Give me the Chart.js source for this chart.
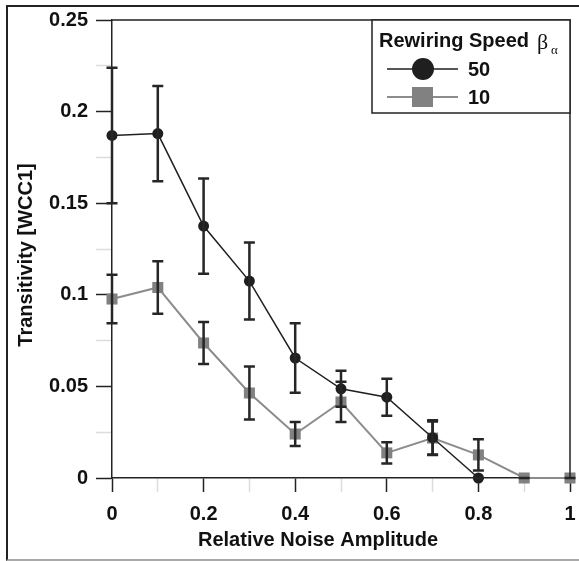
<!DOCTYPE html>
<html>
<head>
<meta charset="utf-8">
<script src="https://cdn.jsdelivr.net/npm/chart.js@4.4.1/dist/chart.umd.min.js"></script>
<style>
    html, body { margin: 0; padding: 0; background: #fff; }
    body { width: 579px; height: 561px; position: relative; overflow: hidden; }
    #frame {
        position: absolute; left: 6px; top: 5px; width: 600px; height: 552px;
        border-top: 2px solid #222; border-left: 2px solid #222; border-bottom: 2px solid #aaa;
    }
    #chart { position: absolute; left: 0; top: 0; }
</style>
</head>
<body>
<div id="frame"></div>
<canvas id="chart" width="579" height="561"></canvas>
<script>
// Relative noise amplitude (x) and transitivity values per rewiring speed
const xValues = [0, 0.1, 0.2, 0.3, 0.4, 0.5, 0.6, 0.7, 0.8, 0.9, 1];
const speed50 = [0.187, 0.188, 0.1375, 0.1075, 0.0655, 0.0487, 0.0441, 0.022, 0];
const speed50Err = [0.037, 0.026, 0.026, 0.021, 0.019, 0.0098, 0.0101, 0.0095, 0];
const speed10 = [0.0977, 0.104, 0.0737, 0.0464, 0.024, 0.0415, 0.0137, 0.0218, 0.0126, 0, 0];
const speed10Err = [0.0132, 0.0143, 0.0115, 0.0145, 0.0066, 0.011, 0.0058, 0.009, 0.0085, 0, 0];

const seriesLabels = ['50', '10'];
const xMajorTicks = [0, 0.2, 0.4, 0.6, 0.8, 1];
const yMajorTicks = [0, 0.05, 0.1, 0.15, 0.2, 0.25];

const FONT = '"Liberation Sans", Arial, sans-serif';

function toPoints(values) {
    return values.map((v, i) => ({ x: xValues[i], y: v }));
}

function isMajor(value, list) {
    return list.some(t => Math.abs(t - value) < 1e-6);
}

// Vertical error bars with caps, drawn through the scales
const errorBars = {
    id: 'errorBars',
    afterDatasetsDraw(chart) {
        const { ctx, scales: { x, y } } = chart;
        ctx.save();
        ctx.strokeStyle = '#262626';
        ctx.lineWidth = 2.5;
        chart.data.datasets.forEach(ds => {
            ds.data.forEach((p, i) => {
                const e = ds.errors[i];
                const px = x.getPixelForValue(p.x);
                const top = y.getPixelForValue(p.y + e);
                const bot = y.getPixelForValue(p.y - e);
                ctx.beginPath();
                ctx.moveTo(px, top); ctx.lineTo(px, bot);
                ctx.moveTo(px - 5.5, top); ctx.lineTo(px + 5.5, top);
                ctx.moveTo(px - 5.5, bot); ctx.lineTo(px + 5.5, bot);
                ctx.stroke();
            });
        });
        ctx.restore();
    }
};

// Plot frame, axis titles and the boxed legend
const decorations = {
    id: 'decorations',
    afterDraw(chart) {
        const { ctx, chartArea: a } = chart;
        ctx.save();
        ctx.strokeStyle = '#222';
        ctx.lineWidth = 1.5;
        ctx.beginPath();
        ctx.moveTo(a.left, a.top); ctx.lineTo(a.right, a.top); ctx.lineTo(a.right, a.bottom);
        ctx.stroke();

        // axis titles
        ctx.fillStyle = '#111';
        ctx.font = 'bold 20px ' + FONT;
        ctx.textAlign = 'center';
        ctx.textBaseline = 'alphabetic';
        ctx.fillText('Relative Noise Amplitude', 318, 546);
        ctx.save();
        ctx.translate(32, 255);
        ctx.rotate(-Math.PI / 2);
        ctx.fillText('Transitivity [WCC1]', 0, 0);
        ctx.restore();

        // legend box
        const lx = 372, ly = a.top, lw = a.right - 372, lh = 93;
        ctx.fillStyle = '#fff';
        ctx.fillRect(lx, ly, lw, lh);
        ctx.strokeRect(lx, ly, lw, lh);

        ctx.fillStyle = '#111';
        ctx.textAlign = 'left';
        ctx.font = 'bold 20px ' + FONT;
        ctx.fillText('Rewiring Speed', 379, 47);
        ctx.font = '22px "Liberation Serif", serif';
        ctx.fillText('\u03B2', 537, 49);
        ctx.font = '13px "Liberation Serif", serif';
        ctx.fillText('\u03B1', 551, 54);

        const rows = [69, 97];
        chart.data.datasets.forEach((ds, i) => {
            const ry = rows[i];
            ctx.strokeStyle = ds.borderColor;
            ctx.lineWidth = ds.borderWidth;
            ctx.beginPath();
            ctx.moveTo(387, ry); ctx.lineTo(458, ry);
            ctx.stroke();
            ctx.fillStyle = ds.pointBackgroundColor;
            if (ds.pointStyle === 'circle') {
                ctx.beginPath();
                ctx.arc(423, ry, 11, 0, Math.PI * 2);
                ctx.fill();
            } else {
                ctx.fillRect(412, ry - 10, 21, 20);
            }
            ctx.fillStyle = '#111';
            ctx.font = 'bold 20px ' + FONT;
            ctx.fillText(seriesLabels[i], 468, ry + 7);
        });
        ctx.restore();
    }
};

new Chart(document.getElementById('chart'), {
    type: 'line',
    data: {
        datasets: [
            {
                label: seriesLabels[0],
                data: toPoints(speed50),
                errors: speed50Err,
                borderColor: '#1f1f1f',
                borderWidth: 1.5,
                pointStyle: 'circle',
                pointRadius: 5.5,
                pointBorderWidth: 0,
                pointBackgroundColor: '#1f1f1f',
                clip: false
            },
            {
                label: seriesLabels[1],
                data: toPoints(speed10),
                errors: speed10Err,
                borderColor: '#8c8c8c',
                borderWidth: 2,
                pointStyle: 'rect',
                pointRadius: 7.8,
                pointBorderWidth: 0,
                pointBackgroundColor: '#818181',
                clip: false
            }
        ]
    },
    options: {
        responsive: false,
        animation: false,
        layout: { padding: { left: 10, top: 20, right: 9, bottom: 6 } },
        plugins: {
            legend: { display: false },
            tooltip: { enabled: false }
        },
        scales: {
            x: {
                type: 'linear',
                min: 0,
                max: 1,
                afterFit(scale) {
                    scale.height = 77;
                    scale.paddingLeft = 0;
                    scale.paddingRight = 0;
                },
                border: { color: '#222', width: 1.5 },
                grid: {
                    drawOnChartArea: false,
                    tickLength: 14,
                    tickWidth: 1.5,
                    tickColor: c => isMajor(c.tick.value, xMajorTicks) ? '#222' : '#dcdcdc'
                },
                ticks: {
                    stepSize: 0.1,
                    autoSkip: false,
                    maxRotation: 0,
                    padding: 10,
                    color: '#111',
                    font: { family: FONT, size: 20, weight: 'bold' },
                    callback: v => isMajor(v, xMajorTicks) ? String(+v.toFixed(2)) : ''
                }
            },
            y: {
                min: 0,
                max: 0.25,
                afterFit(scale) {
                    scale.width = 102;
                    scale.paddingTop = 0;
                    scale.paddingBottom = 0;
                },
                border: { color: '#222', width: 1.5 },
                grid: {
                    drawOnChartArea: false,
                    tickLength: 16,
                    tickWidth: 1.5,
                    tickColor: c => isMajor(c.tick.value, yMajorTicks) ? '#222' : '#dcdcdc'
                },
                ticks: {
                    stepSize: 0.025,
                    autoSkip: false,
                    padding: 8,
                    color: '#111',
                    font: { family: FONT, size: 20, weight: 'bold' },
                    callback: v => isMajor(v, yMajorTicks) ? String(+v.toFixed(3)) : ''
                }
            }
        }
    },
    plugins: [errorBars, decorations]
});
</script>
</body>
</html>
